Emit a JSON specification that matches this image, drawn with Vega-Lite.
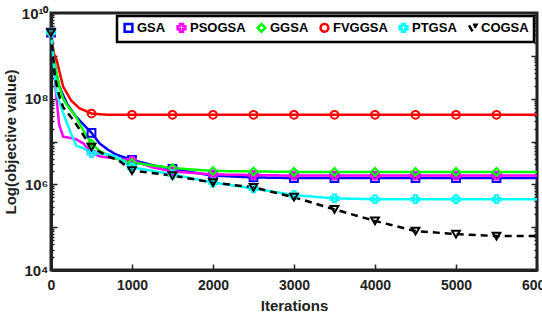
{
  "$schema": "https://vega.github.io/schema/vega-lite/v6.json",
  "autosize": "none",
  "width": 486,
  "height": 257,
  "padding": {"left": 51, "top": 13, "right": 5, "bottom": 63},
  "background": "white",
  "config": {
    "view": {"stroke": "#222", "strokeWidth": 3},
    "font": "Liberation Sans",
    "axis": {
      "domainColor": "#222",
      "domainWidth": 3,
      "tickColor": "#222",
      "tickWidth": 1.5,
      "grid": false,
      "labelFont": "Liberation Sans",
      "labelFontSize": 13,
      "labelFontWeight": "bold",
      "labelColor": "#222",
      "titleFont": "Liberation Sans",
      "titleFontSize": 15,
      "titleFontWeight": "bold",
      "titleColor": "#222"
    },
    "legend": {
      "orient": "top-right",
      "offset": 3,
      "direction": "horizontal",
      "strokeColor": "black",
      "strokeWidth": 2.5,
      "fillColor": "white",
      "padding": 5,
      "columnPadding": 6,
      "symbolSize": 60,
      "symbolStrokeWidth": 2.5,
      "symbolDash": [1, 0],
      "labelFont": "Liberation Sans",
      "labelFontSize": 13,
      "labelFontWeight": "bold",
      "labelColor": "black",
      "labelOffset": 2
    }
  },
  "data": {
    "values": [
      {"s":"GSA","x":0,"y":3.5e9},{"s":"GSA","x":50,"y":5.5e8},{"s":"GSA","x":100,"y":2e8},{"s":"GSA","x":150,"y":1.2e8},{"s":"GSA","x":200,"y":7.5e7},{"s":"GSA","x":300,"y":4e7},{"s":"GSA","x":400,"y":2.5e7},{"s":"GSA","x":500,"y":1.6e7},{"s":"GSA","x":600,"y":9e6},{"s":"GSA","x":700,"y":6.5e6},{"s":"GSA","x":800,"y":5e6},{"s":"GSA","x":1000,"y":3.7e6},{"s":"GSA","x":1250,"y":2.8e6},{"s":"GSA","x":1500,"y":2.3e6},{"s":"GSA","x":1750,"y":1.9e6},{"s":"GSA","x":2000,"y":1.6e6},{"s":"GSA","x":2500,"y":1.45e6},{"s":"GSA","x":3000,"y":1.4e6},{"s":"GSA","x":3500,"y":1.4e6},{"s":"GSA","x":4000,"y":1.4e6},{"s":"GSA","x":4500,"y":1.4e6},{"s":"GSA","x":5000,"y":1.4e6},{"s":"GSA","x":5500,"y":1.4e6},{"s":"GSA","x":6000,"y":1.4e6},
      {"s":"PSOGSA","x":0,"y":3.5e9},{"s":"PSOGSA","x":30,"y":1e9},{"s":"PSOGSA","x":60,"y":1.5e8},{"s":"PSOGSA","x":100,"y":2.5e7},{"s":"PSOGSA","x":150,"y":1.3e7},{"s":"PSOGSA","x":300,"y":1.15e7},{"s":"PSOGSA","x":400,"y":9e6},{"s":"PSOGSA","x":500,"y":5.5e6},{"s":"PSOGSA","x":600,"y":4.5e6},{"s":"PSOGSA","x":800,"y":4e6},{"s":"PSOGSA","x":1000,"y":3.6e6},{"s":"PSOGSA","x":1250,"y":2.5e6},{"s":"PSOGSA","x":1500,"y":2e6},{"s":"PSOGSA","x":2000,"y":1.7e6},{"s":"PSOGSA","x":2500,"y":1.65e6},{"s":"PSOGSA","x":3000,"y":1.6e6},{"s":"PSOGSA","x":3500,"y":1.6e6},{"s":"PSOGSA","x":4000,"y":1.6e6},{"s":"PSOGSA","x":4500,"y":1.6e6},{"s":"PSOGSA","x":5000,"y":1.6e6},{"s":"PSOGSA","x":5500,"y":1.6e6},{"s":"PSOGSA","x":6000,"y":1.6e6},
      {"s":"GGSA","x":0,"y":3.5e9},{"s":"GGSA","x":50,"y":6e8},{"s":"GGSA","x":100,"y":2e8},{"s":"GGSA","x":150,"y":1e8},{"s":"GGSA","x":200,"y":7e7},{"s":"GGSA","x":300,"y":4e7},{"s":"GGSA","x":400,"y":1.8e7},{"s":"GGSA","x":500,"y":9e6},{"s":"GGSA","x":600,"y":6e6},{"s":"GGSA","x":800,"y":4e6},{"s":"GGSA","x":1000,"y":3.2e6},{"s":"GGSA","x":1500,"y":2.4e6},{"s":"GGSA","x":2000,"y":2.05e6},{"s":"GGSA","x":2500,"y":2e6},{"s":"GGSA","x":3000,"y":1.95e6},{"s":"GGSA","x":3500,"y":1.95e6},{"s":"GGSA","x":4000,"y":1.95e6},{"s":"GGSA","x":4500,"y":1.95e6},{"s":"GGSA","x":5000,"y":1.95e6},{"s":"GGSA","x":5500,"y":1.95e6},{"s":"GGSA","x":6000,"y":1.95e6},
      {"s":"FVGGSA","x":0,"y":3.5e9},{"s":"FVGGSA","x":30,"y":1.2e9},{"s":"FVGGSA","x":70,"y":8e8},{"s":"FVGGSA","x":150,"y":1.9e8},{"s":"FVGGSA","x":250,"y":9e7},{"s":"FVGGSA","x":350,"y":6e7},{"s":"FVGGSA","x":500,"y":4.5e7},{"s":"FVGGSA","x":700,"y":4.2e7},{"s":"FVGGSA","x":1000,"y":4.2e7},{"s":"FVGGSA","x":1500,"y":4.2e7},{"s":"FVGGSA","x":2000,"y":4.2e7},{"s":"FVGGSA","x":2500,"y":4.2e7},{"s":"FVGGSA","x":3000,"y":4.2e7},{"s":"FVGGSA","x":3500,"y":4.2e7},{"s":"FVGGSA","x":4000,"y":4.2e7},{"s":"FVGGSA","x":4500,"y":4.2e7},{"s":"FVGGSA","x":5000,"y":4.2e7},{"s":"FVGGSA","x":5500,"y":4.2e7},{"s":"FVGGSA","x":6000,"y":4.2e7},
      {"s":"PTGSA","x":0,"y":3.5e9},{"s":"PTGSA","x":40,"y":5e8},{"s":"PTGSA","x":70,"y":1.3e8},{"s":"PTGSA","x":150,"y":4.6e7},{"s":"PTGSA","x":250,"y":1.5e7},{"s":"PTGSA","x":310,"y":8e6},{"s":"PTGSA","x":400,"y":7e6},{"s":"PTGSA","x":500,"y":5.4e6},{"s":"PTGSA","x":700,"y":5e6},{"s":"PTGSA","x":800,"y":4.5e6},{"s":"PTGSA","x":1000,"y":2.5e6},{"s":"PTGSA","x":1500,"y":1.7e6},{"s":"PTGSA","x":2000,"y":1.1e6},{"s":"PTGSA","x":2500,"y":8e5},{"s":"PTGSA","x":3000,"y":5.6e5},{"s":"PTGSA","x":3500,"y":4.7e5},{"s":"PTGSA","x":4000,"y":4.5e5},{"s":"PTGSA","x":4500,"y":4.5e5},{"s":"PTGSA","x":5000,"y":4.5e5},{"s":"PTGSA","x":5500,"y":4.5e5},{"s":"PTGSA","x":6000,"y":4.5e5},
      {"s":"COGSA","x":0,"y":3.5e9},{"s":"COGSA","x":50,"y":3e8},{"s":"COGSA","x":100,"y":1.2e8},{"s":"COGSA","x":150,"y":6.3e7},{"s":"COGSA","x":275,"y":3.2e7},{"s":"COGSA","x":400,"y":1.4e7},{"s":"COGSA","x":500,"y":7.4e6},{"s":"COGSA","x":700,"y":4.5e6},{"s":"COGSA","x":830,"y":3.7e6},{"s":"COGSA","x":1000,"y":2.1e6},{"s":"COGSA","x":1500,"y":1.6e6},{"s":"COGSA","x":2000,"y":1.1e6},{"s":"COGSA","x":2500,"y":8.5e5},{"s":"COGSA","x":3000,"y":5e5},{"s":"COGSA","x":3500,"y":2.6e5},{"s":"COGSA","x":4000,"y":1.4e5},{"s":"COGSA","x":4500,"y":8.1e4},{"s":"COGSA","x":5000,"y":6.9e4},{"s":"COGSA","x":5500,"y":6.2e4},{"s":"COGSA","x":6000,"y":6.2e4}
    ]
  },
  "encoding": {
    "x": {
      "field": "x", "type": "quantitative",
      "scale": {"domain": [0, 6000], "nice": false},
      "axis": {"values": [0,1000,2000,3000,4000,5000,6000], "format": "d", "title": "Iterations", "tickSize": -6, "labelPadding": 14, "titlePadding": 6, "labelFlush": false, "labelFontSize": 14}
    },
    "color": {
      "field": "s", "type": "nominal", "title": null,
      "scale": {"domain": ["GSA","PSOGSA","GGSA","FVGGSA","PTGSA","COGSA"], "range": ["#0000ff","#ff00ff","#00ff00","#ff0000","#00ffff","#000000"]}
    }
  },
  "layer": [
    {
      "mark": {"type": "line", "strokeWidth": 2.5},
      "encoding": {
        "strokeDash": {
          "field": "s", "type": "nominal", "title": null,
          "scale": {"domain": ["GSA","PSOGSA","GGSA","FVGGSA","PTGSA","COGSA"], "range": [[1,0],[1,0],[1,0],[1,0],[1,0],[7,5]]}
        },
        "y": {
          "field": "y", "type": "quantitative",
          "scale": {"type": "log", "domain": [1e4, 1e10], "nice": false},
          "axis": {
            "title": "Log(objective value)",
            "titlePadding": 3,
            "values": [1e4,2e4,3e4,4e4,5e4,6e4,7e4,8e4,9e4,1e5,2e5,3e5,4e5,5e5,6e5,7e5,8e5,9e5,1e6,2e6,3e6,4e6,5e6,6e6,7e6,8e6,9e6,1e7,2e7,3e7,4e7,5e7,6e7,7e7,8e7,9e7,1e8,2e8,3e8,4e8,5e8,6e8,7e8,8e8,9e8,1e9,2e9,3e9,4e9,5e9,6e9,7e9,8e9,9e9,1e10],
            "tickSize": {"condition": {"test": "abs(log(datum.value)/LN10 - round(log(datum.value)/LN10)) < 0.001", "value": -6}, "value": -3},
            "labelPadding": 9,
            "labelFontSize": 15,
            "labelExpr": "abs(log(datum.value)/LN10 - round(log(datum.value)/LN10)) > 0.001 ? '' : round(log(datum.value)/LN10) == 4 ? '10⁴' : round(log(datum.value)/LN10) == 6 ? '10⁶' : round(log(datum.value)/LN10) == 8 ? '10⁸' : round(log(datum.value)/LN10) == 10 ? '10¹⁰' : ''"
          }
        }
      }
    },
    {
      "transform": [{"filter": "datum.x % 500 == 0 && datum.x < 6000"}],
      "mark": {"type": "point", "size": 60, "strokeWidth": 2, "filled": false, "opacity": 1},
      "encoding": {
        "shape": {
          "field": "s", "type": "nominal", "title": null,
          "scale": {"domain": ["GSA","PSOGSA","GGSA","FVGGSA","PTGSA","COGSA"], "range": ["square","cross","diamond","circle","cross","triangle-down"]}
        },
        "y": {
          "field": "y", "type": "quantitative",
          "scale": {"type": "log", "domain": [1e4, 1e10], "nice": false},
          "axis": {
            "orient": "right",
            "title": null,
            "labels": false,
            "domain": false,
            "values": [1e4,2e4,3e4,4e4,5e4,6e4,7e4,8e4,9e4,1e5,2e5,3e5,4e5,5e5,6e5,7e5,8e5,9e5,1e6,2e6,3e6,4e6,5e6,6e6,7e6,8e6,9e6,1e7,2e7,3e7,4e7,5e7,6e7,7e7,8e7,9e7,1e8,2e8,3e8,4e8,5e8,6e8,7e8,8e8,9e8,1e9,2e9,3e9,4e9,5e9,6e9,7e9,8e9,9e9,1e10],
            "tickSize": {"condition": {"test": "abs(log(datum.value)/LN10 - round(log(datum.value)/LN10)) < 0.001", "value": -6}, "value": -3}
          }
        }
      }
    }
  ],
  "resolve": {"axis": {"y": "independent"}}
}
